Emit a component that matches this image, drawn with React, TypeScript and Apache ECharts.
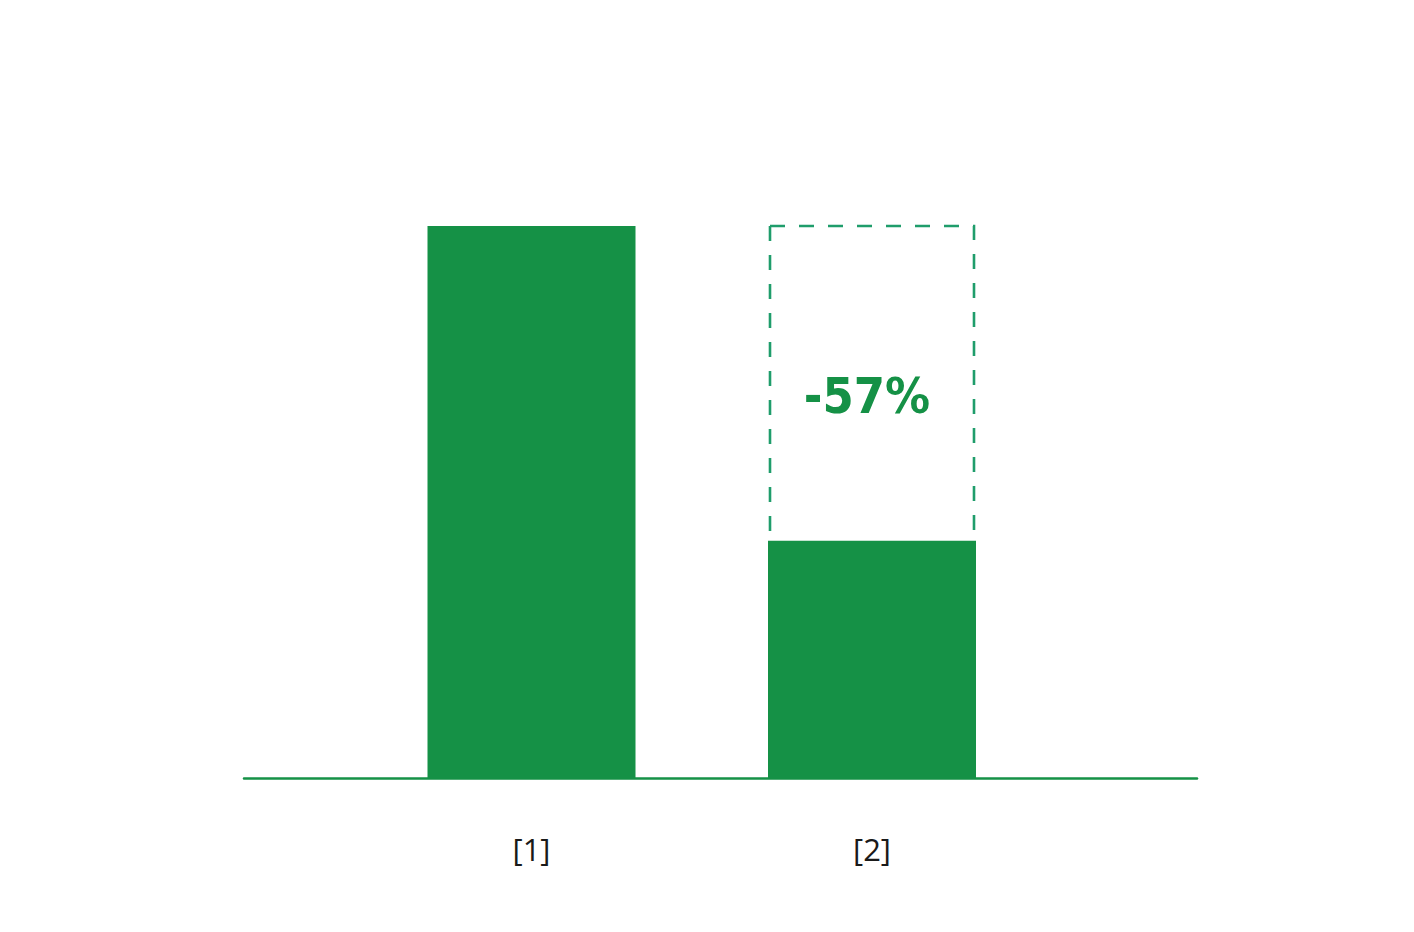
import React, { useEffect, useRef } from "react";
import * as echarts from "echarts";

const categories = ["[1]", "[2]"];
const categoryPositions = [1, 2];
const values = [100, 43];
const changeLabels = ["", "-57%"];

const GREEN = "#159146";
const DASH_GREEN = "#1f9d6b";

export default function App() {
  const ref = useRef<HTMLDivElement>(null);
  useEffect(() => {
    document.body.style.margin = "0";
    const chart = echarts.init(ref.current!, null, { renderer: "svg" });
    const barData = categoryPositions.map((x, i) => [x, values[i]]);
    const refValue = values[0];
    const dashedData = categoryPositions
      .map((x, i) => [x, values[i], refValue, i])
      .filter((d) => d[1] < refValue);

    chart.setOption({
      animation: false,
      grid: { left: 244, right: 217, top: 226, bottom: 154 },
      xAxis: {
        type: "value",
        min: 0.15565,
        max: 2.95448,
        splitLine: { show: false },
        axisTick: { show: false },
        axisLine: { show: true, lineStyle: { color: GREEN, width: 2.5 } },
        axisLabel: {
          customValues: categoryPositions,
          formatter: (v: number) => categories[categoryPositions.indexOf(v)] ?? "",
          color: "#1a1a1a",
          fontFamily: "Open Sans",
          fontSize: 31,
          margin: 55,
        },
      },
      yAxis: {
        type: "value",
        min: 0,
        max: 100,
        show: false,
      },
      series: [
        {
          type: "bar",
          data: barData,
          barWidth: 208,
          itemStyle: { color: GREEN },
          z: 3,
        },
        {
          type: "custom",
          data: dashedData,
          z: 2,
          renderItem: (params: any, api: any) => {
            const x = api.value(0);
            const low = api.coord([x, api.value(1)]);
            const high = api.coord([x, api.value(2)]);
            const idx = api.value(3);
            const half = 102;
            const left = low[0] - half;
            const right = low[0] + half;
            const style = {
              stroke: DASH_GREEN,
              lineWidth: 2.6,
              lineDash: [15, 14],
              fill: null,
            };
            return {
              type: "group",
              children: [
                {
                  type: "polyline",
                  shape: { points: [[left, high[1]], [left, low[1]]] },
                  style,
                },
                {
                  type: "polyline",
                  shape: {
                    points: [
                      [left, high[1]],
                      [right, high[1]],
                      [right, low[1]],
                    ],
                  },
                  style,
                },
                {
                  type: "text",
                  x: low[0] - 5,
                  y: high[1] + (low[1] - high[1]) * 0.54,
                  style: {
                    text: changeLabels[idx],
                    fill: GREEN,
                    fontFamily: "DejaVu Sans Condensed",
                    fontWeight: "bold",
                    fontSize: 50,
                    align: "center",
                    verticalAlign: "middle",
                  },
                },
              ],
            };
          },
        },
      ],
    });
    return () => chart.dispose();
  }, []);
  return <div ref={ref} style={{ width: 1414, height: 932 }} />;
}
